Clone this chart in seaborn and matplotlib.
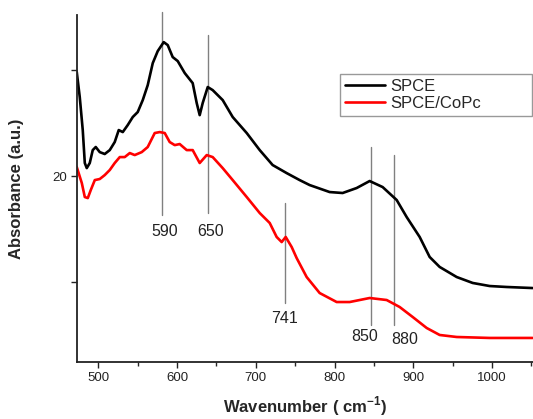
import matplotlib
matplotlib.use("Agg")
import matplotlib.pyplot as plt
import seaborn as sns
import pandas as pd
from matplotlib.ticker import MultipleLocator

# ---- data ----
spce_x = [472.7, 476.5, 480.3, 482.9, 485.4, 489.2, 493.0, 496.8, 501.9, 508.2,
          514.6, 520.9, 526.0, 531.1, 537.4, 543.8, 550.1, 556.5, 562.8, 569.2,
          575.5, 583.1, 588.2, 594.5, 600.9, 609.8, 619.9, 625.0, 628.8, 632.6,
          639.0, 645.3, 658.0, 670.7, 688.5, 705.0, 721.4, 739.2, 755.7, 768.4,
          793.8, 810.3, 828.1, 844.6, 861.1, 878.9, 891.6, 908.1, 920.8, 933.5,
          955.1, 975.4, 997.0, 1018.5, 1051.5]
spce_y = [29.81, 27.45, 24.34, 21.23, 20.75, 21.23, 22.45, 22.74, 22.26, 22.08,
          22.45, 23.21, 24.34, 24.15, 24.81, 25.57, 26.04, 27.17, 28.58, 30.66,
          31.79, 32.64, 32.36, 31.23, 30.85, 29.72, 28.77, 26.89, 25.75, 26.89,
          28.40, 28.11, 27.17, 25.57, 24.06, 22.45, 21.04, 20.28, 19.62, 19.15,
          18.49, 18.40, 18.87, 19.53, 18.96, 17.74, 16.13, 14.25, 12.36, 11.42,
          10.47, 9.91, 9.62, 9.53, 9.43]

copc_x = [472.7, 479.1, 482.9, 486.7, 490.5, 495.6, 501.9, 508.2, 514.6, 520.9,
          527.3, 533.6, 540.0, 546.3, 555.2, 562.8, 571.7, 578.0, 584.4, 590.7,
          597.1, 603.4, 612.3, 619.9, 628.8, 637.7, 645.3, 658.0, 670.7, 688.5,
          705.0, 717.7, 726.5, 732.9, 738.0, 745.6, 751.9, 764.6, 781.1, 802.7,
          819.2, 844.6, 866.2, 882.7, 899.2, 917.0, 933.5, 955.1, 997.0, 1051.5]
copc_y = [20.85, 19.34, 18.02, 17.92, 18.68, 19.62, 19.72, 20.09, 20.57, 21.23,
          21.79, 21.79, 22.17, 21.98, 22.26, 22.74, 24.06, 24.15, 24.06, 23.21,
          22.92, 23.02, 22.45, 22.45, 21.23, 21.98, 21.79, 20.75, 19.62, 18.02,
          16.51, 15.57, 14.25, 13.77, 14.25, 13.30, 12.26, 10.47, 8.96, 8.11,
          8.11, 8.49, 8.30, 7.64, 6.70, 5.66, 5.00, 4.81, 4.72, 4.72]

series_names = ["SPCE", "SPCE/CoPc"]
peak_labels = ["590", "650", "741", "850", "880"]
peak_line_x = [580.6, 639.0, 736.7, 845.8, 875.0]
peak_line_top = [35.47, 33.30, 17.45, 22.74, 21.98]
peak_line_bottom = [16.32, 16.51, 8.02, 5.94, 5.94]
peak_label_x = [584.0, 642.0, 737.0, 838.0, 889.0]
peak_label_y = [14.72, 14.72, 6.60, 4.81, 4.53]

# ---- build table ----
df = pd.concat([
    pd.DataFrame({"x": spce_x, "y": spce_y, "series": series_names[0]}),
    pd.DataFrame({"x": copc_x, "y": copc_y, "series": series_names[1]}),
], ignore_index=True)

sns.set_theme(style="ticks")
plt.rcParams["font.family"] = ["Liberation Sans", "DejaVu Sans"]
plt.rcParams["mathtext.fontset"] = "custom"
plt.rcParams["mathtext.rm"] = "Liberation Sans"
plt.rcParams["mathtext.bf"] = "Liberation Sans:bold"

fig = plt.figure(figsize=(5.33, 4.19), dpi=100)
ax = fig.add_axes([77 / 533, 1 - 362 / 419, (533 - 77) / 533, (362 - 15) / 419])

sns.lineplot(data=df, x="x", y="y", hue="series", palette=["black", "red"],
             estimator=None, sort=False, linewidth=1.9, ax=ax, legend=True)

ax.set_xlim(473, 1052)
ax.set_ylim(2.45, 35.2)

for xl, yt, yb in zip(peak_line_x, peak_line_top, peak_line_bottom):
    ax.plot([xl, xl], [yb, yt], color="#808080", lw=1.0, clip_on=False, zorder=1)
for lab, lx, ly in zip(peak_labels, peak_label_x, peak_label_y):
    ax.text(lx, ly, lab, ha="center", va="center", fontsize=11.5, color="#222222")

ax.xaxis.set_major_locator(MultipleLocator(100))
ax.xaxis.set_minor_locator(MultipleLocator(50))
ax.set_yticks([10, 20, 30])
ax.set_yticklabels(["", "20", ""])
ax.tick_params(axis="both", which="major", direction="out", length=4, width=1.0,
               labelsize=9.5, colors="#222222")
ax.tick_params(axis="x", which="minor", direction="out", length=3, width=1.0)

for s in ["left", "bottom"]:
    ax.spines[s].set_linewidth(1.3)
    ax.spines[s].set_color("#222222")
sns.despine(ax=ax)

ax.set_xlabel(r"Wavenumber ( cm$^{\mathbf{-1}}$)", fontsize=12, fontweight="bold", labelpad=7)
ax.set_ylabel("Absorbance (a.u.)", fontsize=12, fontweight="bold", labelpad=20)

handles, labels = ax.get_legend_handles_labels()
leg = ax.legend(handles, labels, loc="upper left", mode="expand",
                bbox_to_anchor=(340 / 533, 1 - 117 / 419, 192 / 533, 43 / 419),
                bbox_transform=fig.transFigure, fontsize=12, frameon=True,
                fancybox=False, handlelength=2.4, handletextpad=0.3,
                borderpad=0.3, labelspacing=0.1, borderaxespad=0)
leg.get_frame().set_edgecolor("#808080")
leg.get_frame().set_linewidth(1.0)

fig.savefig("out.png", dpi=100)
